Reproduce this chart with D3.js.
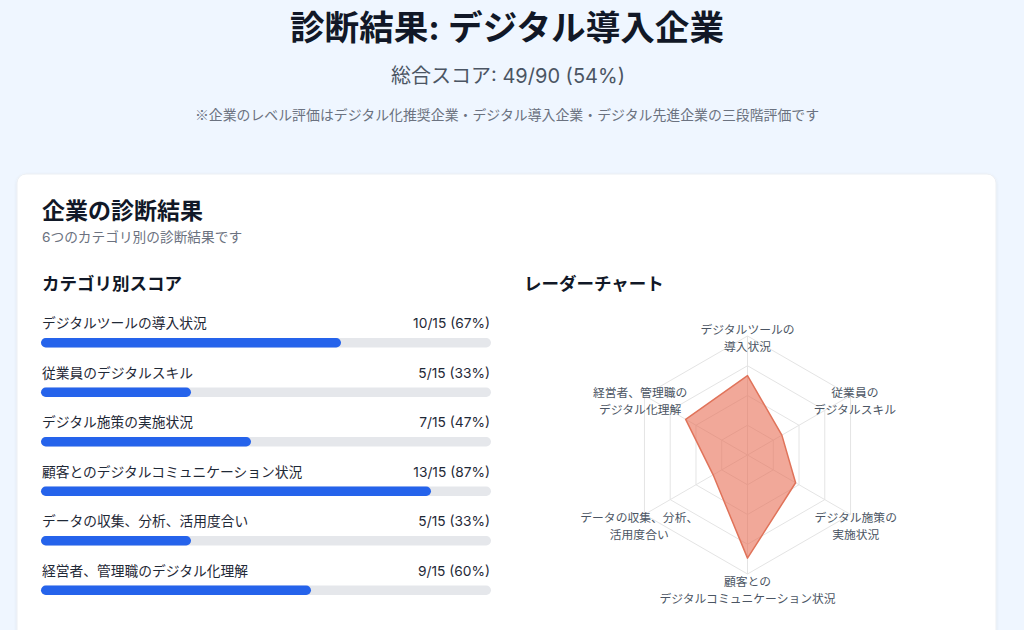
<!DOCTYPE html>
<html lang="ja">
<head>
<meta charset="utf-8">
<script src="https://cdn.jsdelivr.net/npm/d3@7"></script>
<style>
  html, body { margin: 0; padding: 0; background: #eff6ff; overflow: hidden; }
  svg { display: block; font-family: Inter, "Noto Sans CJK JP", sans-serif; }
</style>
</head>
<body>
<div id="container"></div>
<script>
const categories = [
  'デジタルツールの導入状況',
  '従業員のデジタルスキル',
  'デジタル施策の実施状況',
  '顧客とのデジタルコミュニケーション状況',
  'データの収集、分析、活用度合い',
  '経営者、管理職のデジタル化理解'
];
const radarLabels = [
  ['デジタルツールの', '導入状況'],
  ['従業員の', 'デジタルスキル'],
  ['デジタル施策の', '実施状況'],
  ['顧客との', 'デジタルコミュニケーション状況'],
  ['データの収集、分析、', '活用度合い'],
  ['経営者、管理職の', 'デジタル化理解']
];
const scores = [10, 5, 7, 13, 5, 9];
const maxScore = 15;
const ringLevels = [3.75, 7.5, 11.25, 15];

const w = 1024;
const h = 630;

const svg = d3.select('#container')
  .append('svg')
  .attr('width', w)
  .attr('height', h);

// header
svg.append('text')
  .attr('x', 507).attr('y', 40)
  .attr('text-anchor', 'middle')
  .style('font-size', '34.6px').style('font-weight', 700)
  .style('fill', '#111827')
  .text('診断結果: デジタル導入企業');

const total = d3.sum(scores);
const totalMax = maxScore * scores.length;
svg.append('text')
  .attr('x', 508).attr('y', 83)
  .attr('text-anchor', 'middle')
  .style('font-size', '20px')
  .style('fill', '#4b5563')
  .text(`総合スコア: ${total}/${totalMax} (${Math.round(total / totalMax * 100)}%)`);

svg.append('text')
  .attr('x', 507).attr('y', 120)
  .attr('text-anchor', 'middle')
  .style('font-family', '"Noto Sans CJK JP", sans-serif')
  .style('font-size', '13.9px')
  .style('fill', '#6b7280')
  .text('※企業のレベル評価はデジタル化推奨企業・デジタル導入企業・デジタル先進企業の三段階評価です');

// card
const defs = svg.append('defs');
const shadow = defs.append('filter').attr('id', 'shadow')
  .attr('x', '-5%').attr('y', '-5%').attr('width', '110%').attr('height', '110%');
shadow.append('feDropShadow')
  .attr('dx', 0).attr('dy', 1).attr('stdDeviation', 1.5)
  .attr('flood-color', '#000').attr('flood-opacity', 0.08);

svg.append('rect')
  .attr('x', 17).attr('y', 174)
  .attr('width', 979).attr('height', 520)
  .attr('rx', 9)
  .attr('fill', '#fff')
  .attr('stroke', '#eceff3')
  .attr('filter', 'url(#shadow)');

svg.append('text')
  .attr('x', 42).attr('y', 219)
  .style('font-size', '23px').style('font-weight', 700)
  .style('fill', '#111827')
  .text('企業の診断結果');

svg.append('text')
  .attr('x', 42).attr('y', 242)
  .style('font-size', '13.7px')
  .style('fill', '#6b7280')
  .text('6つのカテゴリ別の診断結果です');

svg.append('text')
  .attr('x', 42).attr('y', 290)
  .style('font-size', '17.5px').style('font-weight', 700)
  .style('fill', '#111827')
  .text('カテゴリ別スコア');

svg.append('text')
  .attr('x', 524).attr('y', 290)
  .style('font-size', '17.5px').style('font-weight', 700)
  .style('fill', '#111827')
  .text('レーダーチャート');

// bar list
const xScale = d3.scaleLinear().domain([0, maxScore]).range([41, 491]);
const yScale = d3.scaleBand().domain(categories).range([311, 608]);

const rows = svg.selectAll('.row')
  .data(categories.map((c, i) => ({ name: c, value: scores[i] })))
  .enter()
  .append('g')
  .attr('class', 'row')
  .attr('transform', d => `translate(0, ${yScale(d.name)})`);

rows.append('text')
  .attr('x', 42).attr('y', 17)
  .style('font-size', '13.75px')
  .style('fill', '#1f2937')
  .text(d => d.name);

rows.append('text')
  .attr('x', 490).attr('y', 17)
  .attr('text-anchor', 'end')
  .style('font-size', '13.75px')
  .style('fill', '#1f2937')
  .text(d => `${d.value}/${maxScore} (${Math.round(d.value / maxScore * 100)}%)`);

rows.append('rect')
  .attr('x', xScale(0)).attr('y', 27)
  .attr('width', xScale(maxScore) - xScale(0)).attr('height', 9.5)
  .attr('rx', 4.75)
  .attr('fill', '#e5e7eb');

rows.append('rect')
  .attr('x', xScale(0)).attr('y', 27)
  .attr('width', d => xScale(d.value) - xScale(0)).attr('height', 9.5)
  .attr('rx', 4.75)
  .attr('fill', '#2563eb');

// radar
const cx = 747.5;
const cy = 455;
const rScale = d3.scaleLinear().domain([0, maxScore]).range([0, 119]);
const angle = i => (i * 2 * Math.PI) / categories.length;
const pt = (i, v) => [cx + rScale(v) * Math.sin(angle(i)), cy - rScale(v) * Math.cos(angle(i))];

const radar = svg.append('g').attr('class', 'radar');

radar.selectAll('.ring')
  .data(ringLevels)
  .enter()
  .append('polygon')
  .attr('class', 'ring')
  .attr('points', lv => categories.map((c, i) => pt(i, lv).join(',')).join(' '))
  .attr('fill', 'none')
  .attr('stroke', '#e4e4e4')
  .attr('stroke-width', 1);

radar.selectAll('.spoke')
  .data(categories)
  .enter()
  .append('line')
  .attr('class', 'spoke')
  .attr('x1', cx).attr('y1', cy)
  .attr('x2', (c, i) => pt(i, maxScore)[0])
  .attr('y2', (c, i) => pt(i, maxScore)[1])
  .attr('stroke', '#e4e4e4')
  .attr('stroke-width', 1);

radar.append('polygon')
  .attr('points', scores.map((v, i) => pt(i, v).join(',')).join(' '))
  .attr('fill', 'rgba(232, 110, 85, 0.6)')
  .attr('stroke', '#e0735a')
  .attr('stroke-width', 1.5)
  .attr('stroke-linejoin', 'round');

const labels = radar.selectAll('.rlabel')
  .data(radarLabels)
  .enter()
  .append('text')
  .attr('class', 'rlabel')
  .attr('text-anchor', 'middle')
  .style('font-size', '11.8px')
  .style('fill', '#4b5563')
  .attr('transform', (d, i) => {
    const a = angle(i);
    const c = Math.cos(a);
    const s = Math.sin(a);
    const dist = 125 - 8 * c;
    const hx = dist * s + (c > 0 ? 3 : -4) * s;
    return `translate(${cx + hx}, ${cy - dist * c + 8 * s * s + (c < -0.9 ? 2 : 0)})`;
  });

labels.selectAll('tspan')
  .data(d => d)
  .enter()
  .append('tspan')
  .attr('x', 0)
  .attr('y', (d, j) => -4 + j * 17)
  .text(d => d);
</script>
</body>
</html>
